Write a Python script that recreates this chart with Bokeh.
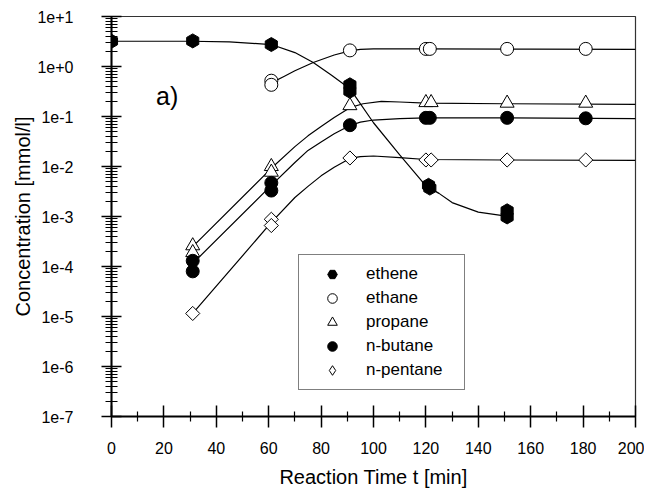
import math
from bokeh.plotting import figure
from bokeh.models import FixedTicker, Legend, LegendItem, Label
from bokeh.embed import file_html
from bokeh.resources import INLINE

# ---------------- data ----------------
series_names = ["ethene", "ethane", "propane", "n-butane", "n-pentane"]

t_ethene = [0, 31, 61, 91, 91, 121, 121.5, 151, 151]
c_ethene = [3.2, 3.25, 2.75, 0.43, 0.32, 0.0042, 0.0037, 0.0013, 0.00098]

t_ethane = [61, 61, 91, 120, 121.5, 151, 181]
c_ethane = [0.52, 0.43, 2.1, 2.25, 2.25, 2.25, 2.25]

t_propane = [31, 31, 61, 61, 91, 120, 122, 151, 181]
c_propane = [2.6e-4, 1.9e-4, 0.0100, 0.0077, 0.165, 0.19, 0.19, 0.185, 0.185]

t_butane = [31, 31, 61, 61, 91, 120, 121.5, 151, 181]
c_butane = [1.3e-4, 8.0e-5, 0.0047, 0.0033, 0.067, 0.094, 0.094, 0.094, 0.092]

t_pentane = [31, 61, 61, 91, 120, 122, 151, 181]
c_pentane = [1.15e-5, 8.8e-4, 6.6e-4, 0.0148, 0.0135, 0.0135, 0.0135, 0.0135]

# fitted curves
fit_t_ethene = [0, 30, 45, 61, 70, 77, 84, 91, 100, 110, 120, 125, 130, 140, 150]
fit_c_ethene = [3.2, 3.2, 3.1, 2.75, 1.9, 1.2, 0.67, 0.36, 0.075, 0.017, 0.0041, 0.0029, 0.0019, 0.00122, 0.00103]

fit_t_ethane = [61, 66, 70, 77, 85, 91, 95, 100, 120, 160, 200]
fit_c_ethane = [0.47, 0.64, 0.82, 1.2, 1.7, 2.05, 2.2, 2.25, 2.25, 2.22, 2.2]

fit_t_propane = [31, 61, 70, 75, 80, 85, 91, 96, 103, 110, 120, 150, 200]
fit_c_propane = [2.5e-4, 0.0092, 0.025, 0.041, 0.063, 0.095, 0.15, 0.18, 0.2, 0.195, 0.185, 0.18, 0.175]

fit_t_butane = [31, 61, 70, 75, 80, 85, 91, 95, 100, 110, 120, 150, 200]
fit_c_butane = [1.15e-4, 0.0042, 0.012, 0.021, 0.031, 0.045, 0.066, 0.077, 0.085, 0.091, 0.094, 0.094, 0.091]

fit_t_pentane = [31, 61, 70, 75, 80, 85, 91, 95, 100, 110, 120, 150, 200]
fit_c_pentane = [1.15e-5, 7.6e-4, 0.0024, 0.0040, 0.0065, 0.0097, 0.0145, 0.0158, 0.0162, 0.015, 0.0138, 0.0135, 0.0132]

x_ticks = [0, 20, 40, 60, 80, 100, 120, 140, 160, 180, 200]
y_ticks = [1e-7, 1e-6, 1e-5, 1e-4, 1e-3, 1e-2, 1e-1, 1e0, 1e1]
y_tick_labels = ["1e-7", "1e-6", "1e-5", "1e-4", "1e-3", "1e-2", "1e-1", "1e+0", "1e+1"]

FONT = "Liberation Sans"

p = figure(width=644, height=494, x_range=(0, 200), y_range=(1e-7, 1e1),
           y_axis_type="log", output_backend="svg", toolbar_location=None,
           min_border_left=111, min_border_right=9, min_border_top=16, min_border_bottom=78)
p.grid.visible = False
p.outline_line_color = "#333333"
p.outline_line_width = 1.2

# axes
p.xaxis.ticker = FixedTicker(ticks=x_ticks,
                             minor_ticks=[(a + b) / 2 for a, b in zip(x_ticks[:-1], x_ticks[1:])])
minor_y = [m * t for t in y_ticks[:-1] for m in range(2, 10)]
p.yaxis.ticker = FixedTicker(ticks=y_ticks, minor_ticks=minor_y)
p.yaxis.major_label_overrides = {t: l for t, l in zip(y_ticks, y_tick_labels)}

for ax in (p.xaxis[0], p.yaxis[0]):
    ax.axis_line_width = 2
    ax.axis_line_color = "black"
    ax.major_tick_line_width = 1.5
    ax.minor_tick_line_width = 1.2
    ax.major_label_text_font = FONT
    ax.major_label_text_font_size = "16px"
    ax.major_label_text_color = "black"
    ax.axis_label_text_font = FONT
    ax.axis_label_text_font_size = "20px"
    ax.axis_label_text_font_style = "normal"
    ax.axis_label_text_color = "black"

p.xaxis.major_tick_in = 11
p.xaxis.major_tick_out = 11
p.xaxis.minor_tick_in = 5
p.xaxis.minor_tick_out = 5
p.xaxis.major_label_standoff = 14
p.xaxis.axis_label = "Reaction Time t [min]"
p.xaxis.axis_label_standoff = 9

p.yaxis.major_tick_in = 10
p.yaxis.major_tick_out = 10
p.yaxis.minor_tick_in = 6
p.yaxis.minor_tick_out = 6
p.yaxis.major_label_standoff = 28
p.yaxis.axis_label = "Concentration [mmol/l]"
p.yaxis.axis_label_standoff = 0

# curves
for ft, fc in [(fit_t_ethene, fit_c_ethene), (fit_t_ethane, fit_c_ethane),
               (fit_t_propane, fit_c_propane), (fit_t_butane, fit_c_butane),
               (fit_t_pentane, fit_c_pentane)]:
    p.line(ft, fc, line_color="black", line_width=1.2)

# markers
p.scatter(t_ethene, c_ethene, marker="hex", size=14, angle=math.pi / 2,
          fill_color="black", line_color="black")
p.scatter(t_ethane, c_ethane, marker="circle", size=13,
          fill_color="white", line_color="black", line_width=1)
p.scatter(t_propane, c_propane, marker="triangle", size=14,
          fill_color="white", line_color="black", line_width=1)
p.scatter(t_butane, c_butane, marker="circle", size=13,
          fill_color="black", line_color="black")
p.scatter(t_pentane, c_pentane, marker="square", size=10, angle=math.pi / 4,
          fill_color="white", line_color="black", line_width=1)

# legend-key renderers (a single NaN point each, never visible in the plot)
legend_styles = [("hex", "black"), ("circle", "white"), ("triangle", "white"),
                 ("circle", "black"), ("diamond", "white")]
nan = float("nan")
legend_renderers = [p.scatter(x=[nan], y=[nan], marker=m, fill_color=fc,
                              line_color="black", line_width=1)
                    for m, fc in legend_styles]

legend = Legend(items=[LegendItem(label=n, renderers=[r]) for n, r in
                       zip(series_names, legend_renderers)],
                location=(187, 26), border_line_color="black", border_line_width=1,
                background_fill_color="white", background_fill_alpha=1,
                padding=7, spacing=0, glyph_height=24, glyph_width=52,
                label_height=24, label_width=91, label_standoff=8,
                label_text_font=FONT, label_text_font_size="17px",
                label_text_color="black", margin=0)
p.add_layout(legend, "center")

p.add_layout(Label(x=17, y=0.26, text="a)", text_font=FONT, text_font_size="25px",
                   text_baseline="middle", text_color="black"))

open("out.html", "w").write(file_html(p, INLINE))
